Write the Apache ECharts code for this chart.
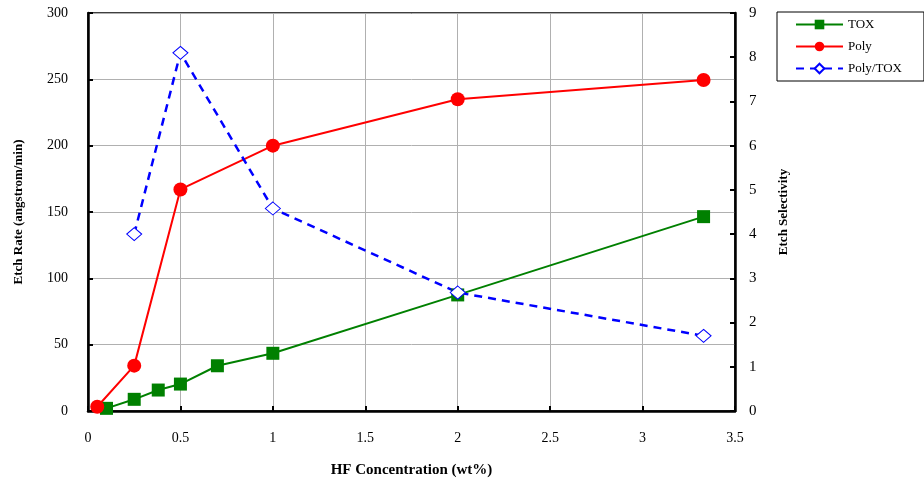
<!DOCTYPE html>
<html>
<head>
<meta charset="utf-8">
<script src="https://cdn.jsdelivr.net/npm/echarts@6/dist/echarts.min.js"></script>
<style>
html,body{margin:0;padding:0;background:#fff;}
#chart{width:924px;height:483px;}
</style>
</head>
<body>
<div id="chart"></div>
<script>
// HF concentration (wt%) and measured values
var toxX = [0.1, 0.25, 0.38, 0.5, 0.7, 1, 2, 3.33];
var toxY = [2, 8.8, 15.8, 20.3, 34.1, 43.5, 87.5, 146.5];
var polyX = [0.05, 0.25, 0.5, 1, 2, 3.33];
var polyY = [3.2, 34.2, 167, 200, 235, 249.5];
var selX = [0.25, 0.5, 1, 2, 3.33];
var selY = [4.0, 8.1, 4.58, 2.68, 1.7];

function pairs(xs, ys){
    var out = [];
    for (var i = 0; i < xs.length; i++) out.push([xs[i], ys[i]]);
    return out;
}

var font = 'Liberation Serif';
var chart = echarts.init(document.getElementById('chart'));
var option = {
    animation: false,
    backgroundColor: '#fff',
    textStyle: {fontFamily: font},
    legend: {
        orient: 'vertical',
        left: 777,
        top: 12,
        padding: [6, 22, 6, 18],
        itemWidth: 47,
        itemHeight: 12,
        itemGap: 9,
        borderColor: '#000',
        borderWidth: 1,
        textStyle: {fontFamily: font, fontSize: 13, color: '#000'},
        data: ['TOX', 'Poly', 'Poly/TOX']
    },
    grid: {left: 88, right: 189, top: 13, bottom: 72, show: true, borderColor: '#000', borderWidth: 1.5},
    xAxis: {
        type: 'value',
        min: 0, max: 3.5, interval: 0.5,
        name: 'HF Concentration (wt%)',
        nameLocation: 'middle',
        nameGap: 52,
        nameTextStyle: {fontFamily: font, fontSize: 15, fontWeight: 'bold', color: '#000'},
        axisLine: {lineStyle: {color: '#000', width: 2.5}},
        axisTick: {inside: true, length: 5, lineStyle: {color: '#000', width: 2}},
        axisLabel: {margin: 20, fontSize: 14, color: '#000', fontFamily: font},
        splitLine: {show: true, lineStyle: {color: '#b0b0b0', width: 1}}
    },
    yAxis: [{
        type: 'value',
        min: 0, max: 300, interval: 50,
        name: 'Etch Rate (angstrom/min)',
        nameLocation: 'middle',
        nameGap: 63,
        nameTextStyle: {fontFamily: font, fontSize: 13, fontWeight: 'bold', color: '#000'},
        axisLine: {show: true, lineStyle: {color: '#000', width: 2.5}},
        axisTick: {show: true, inside: true, length: 5, lineStyle: {color: '#000', width: 2}},
        axisLabel: {margin: 20, fontSize: 14, color: '#000', fontFamily: font},
        splitLine: {show: true, lineStyle: {color: '#b0b0b0', width: 1}}
    }, {
        type: 'value',
        position: 'right',
        min: 0, max: 9, interval: 1,
        name: 'Etch Selectivity',
        nameLocation: 'middle',
        nameGap: 42,
        nameTextStyle: {fontFamily: font, fontSize: 13, fontWeight: 'bold', color: '#000'},
        axisLine: {show: true, lineStyle: {color: '#000', width: 2.5}},
        axisTick: {show: true, inside: true, length: 5, lineStyle: {color: '#000', width: 2}},
        axisLabel: {margin: 14, fontSize: 15, color: '#000', fontFamily: font},
        splitLine: {show: false}
    }],
    series: [
        {
            name: 'TOX',
            type: 'line',
            data: pairs(toxX, toxY),
            symbol: 'rect',
            symbolSize: 13,
            color: '#008000',
            lineStyle: {color: '#008000', width: 2},
            itemStyle: {color: '#008000'}
        },
        {
            name: 'Poly',
            type: 'line',
            data: pairs(polyX, polyY),
            symbol: 'circle',
            symbolSize: 14,
            color: '#ff0000',
            lineStyle: {color: '#ff0000', width: 2},
            itemStyle: {color: '#ff0000'}
        },
        {
            name: 'Poly/TOX',
            type: 'line',
            yAxisIndex: 1,
            data: pairs(selX, selY),
            symbol: 'diamond',
            symbolSize: [15, 13],
            color: '#0000ff',
            lineStyle: {color: '#0000ff', width: 2.5, type: [8, 6]},
            itemStyle: {color: '#fff', borderColor: '#0000ff', borderWidth: 1}
        }
    ]
};
chart.setOption(option);
</script>
</body>
</html>
